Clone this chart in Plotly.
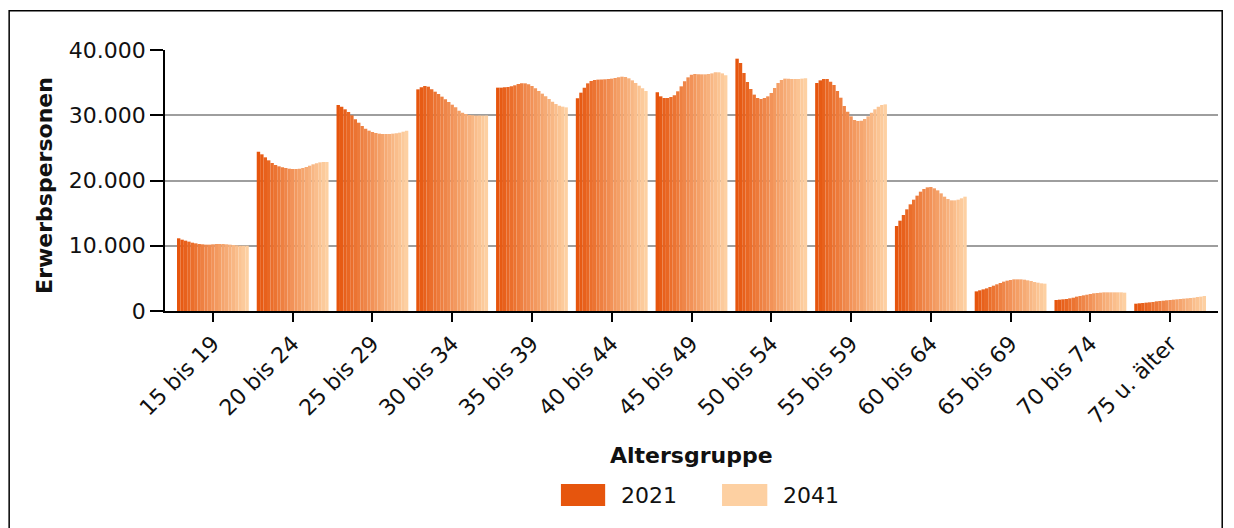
import plotly.graph_objects as go

YEARS = list(range(2021, 2042))
AGE_GROUPS = ["15 bis 19", "20 bis 24", "25 bis 29", "30 bis 34", "35 bis 39", "40 bis 44",
              "45 bis 49", "50 bis 54", "55 bis 59", "60 bis 64", "65 bis 69", "70 bis 74", "75 u. älter"]

# Erwerbspersonen je Altersgruppe, Jahre 2021..2041
g15 = [11140, 10930, 10780, 10630, 10470, 10370, 10270, 10220, 10170, 10170, 10220,
       10270, 10270, 10270, 10220, 10170, 10120, 10060, 10010, 10010, 10010]
g20 = [24420, 24010, 23550, 23090, 22680, 22380, 22170, 22020, 21920, 21810, 21760,
       21760, 21810, 21920, 22070, 22270, 22480, 22630, 22780, 22840, 22840]
g25 = [31570, 31320, 30910, 30500, 29990, 29370, 28860, 28350, 27940, 27640, 27430,
       27280, 27180, 27130, 27130, 27130, 27180, 27230, 27330, 27480, 27640]
g30 = [33970, 34280, 34480, 34380, 33970, 33610, 33260, 32850, 32440, 32030, 31620,
       31210, 30690, 30390, 30190, 30040, 29990, 29950, 29950, 29950, 29950]
g35 = [34230, 34230, 34280, 34330, 34430, 34590, 34790, 34890, 34890, 34740, 34480,
       34130, 33720, 33310, 32900, 32490, 32080, 31720, 31470, 31320, 31210]
g40 = [32590, 33460, 34230, 34890, 35250, 35400, 35460, 35460, 35510, 35560, 35610,
       35710, 35810, 35910, 35860, 35660, 35350, 34940, 34530, 34130, 33720]
g45 = [33510, 32900, 32640, 32640, 32800, 33050, 33670, 34430, 35200, 35810, 36220,
       36320, 36270, 36270, 36270, 36320, 36420, 36580, 36580, 36420, 36120]
g50 = [38670, 38010, 36480, 35100, 34020, 33160, 32640, 32490, 32640, 32900, 33410,
       34180, 34940, 35400, 35610, 35610, 35560, 35560, 35560, 35610, 35660]
g55 = [34940, 35350, 35560, 35560, 35150, 34640, 33720, 32690, 31420, 30550, 29830,
       29270, 29120, 29170, 29430, 29830, 30400, 30910, 31320, 31570, 31670]
g60 = [13030, 13840, 14710, 15580, 16350, 17060, 17680, 18290, 18700, 18950, 19000,
       18800, 18490, 18030, 17520, 17160, 16960, 16960, 17060, 17270, 17520]
g65 = [3010, 3170, 3320, 3470, 3680, 3880, 4090, 4290, 4500, 4650, 4750,
       4850, 4850, 4850, 4800, 4700, 4600, 4440, 4340, 4240, 4190]
g70 = [1690, 1740, 1790, 1840, 1940, 2040, 2200, 2300, 2400, 2500, 2610,
       2710, 2760, 2810, 2860, 2860, 2860, 2860, 2860, 2860, 2810]
g75 = [1120, 1180, 1230, 1280, 1330, 1380, 1480, 1530, 1580, 1640, 1690,
       1740, 1790, 1840, 1890, 1940, 1990, 2040, 2150, 2200, 2300]

GROUP_VALUES = [g15, g20, g25, g30, g35, g40, g45, g50, g55, g60, g65, g70, g75]

COLOR_START = (230, 85, 13)    # 2021
COLOR_END = (253, 208, 162)    # 2041
FONT = "DejaVu Sans"


def year_color(i, n):
    t = i / (n - 1)
    r, g, b = [round(a + (b - a) * t) for a, b in zip(COLOR_START, COLOR_END)]
    return f"rgb({r},{g},{b})"


fig = go.Figure()
n = len(YEARS)
for i, year in enumerate(YEARS):
    fig.add_trace(go.Bar(
        x=AGE_GROUPS,
        y=[vals[i] for vals in GROUP_VALUES],
        name=str(year),
        marker=dict(color=year_color(i, n), line=dict(width=0)),
        showlegend=False,
    ))

# page body adds an 8px offset, so the figure is 8px smaller and margins shifted
fig.update_layout(
    width=1226, height=520,
    margin=dict(l=157, r=16, t=42, b=217),
    paper_bgcolor="white", plot_bgcolor="white",
    barmode="group", bargap=0.1, bargroupgap=0,
    separators=",.",
    font=dict(family=FONT, size=22, color="#111111"),
)
fig.update_xaxes(
    range=[-0.6, 12.6], tickangle=-45,
    showline=True, linecolor="black", linewidth=2,
    ticks="outside", ticklen=9, tickcolor="black", tickwidth=1.5,
    tickfont=dict(size=22),
)
fig.update_yaxes(
    range=[0, 40000], tickvals=[0, 10000, 20000, 30000, 40000], tickformat=",d",
    showline=True, linecolor="black", linewidth=1.5,
    ticks="outside", ticklen=13, tickcolor="black", tickwidth=1.5,
    showgrid=True, gridcolor="#9e9e9e", gridwidth=2, zeroline=False,
    tickfont=dict(size=22),
)

# titles
fig.add_annotation(text="<b>Altersgruppe</b>", xref="paper", yref="paper", x=0.5, y=-0.552,
                   showarrow=False, font=dict(size=22), xanchor="center", yanchor="middle")
fig.add_annotation(text="<b>Erwerbspersonen</b>", xref="paper", yref="paper", x=-0.114, y=0.483,
                   showarrow=False, textangle=-90, font=dict(size=22), xanchor="center", yanchor="middle")

# legend (first and last year only)
for i, (x0, x1, xt) in zip([0, n - 1], [(0.376, 0.418, 0.431), (0.529, 0.572, 0.585)]):
    fig.add_shape(type="rect", xref="paper", yref="paper", x0=x0, x1=x1, y0=-0.747, y1=-0.663,
                  fillcolor=year_color(i, n), line=dict(width=0))
    fig.add_annotation(text=str(YEARS[i]), xref="paper", yref="paper", x=xt, y=-0.705,
                       showarrow=False, xanchor="left", yanchor="middle", font=dict(size=22))

# outer frame
fig.add_shape(type="rect", xref="paper", yref="paper", x0=-0.148, x1=1.004, y0=-0.95, y1=1.15,
              line=dict(color="black", width=1.5), fillcolor="rgba(0,0,0,0)", layer="below")

fig.write_html("out.html")
